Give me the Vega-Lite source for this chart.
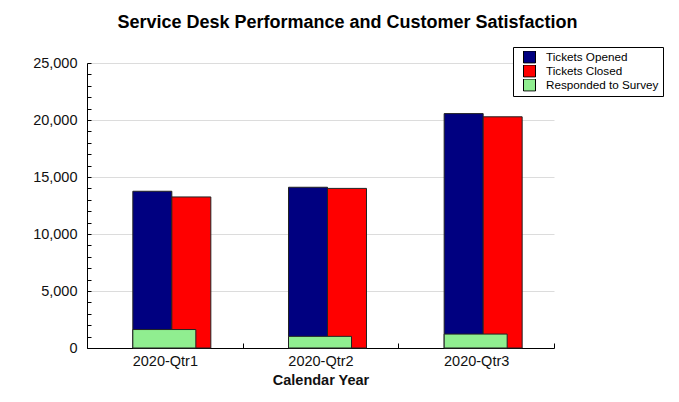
{
  "$schema": "https://vega.github.io/schema/vega-lite/v6.json",
  "width": 467,
  "height": 285,
  "autosize": {"type": "none"},
  "padding": {"left": 87, "top": 63, "right": 125, "bottom": 54},
  "background": "white",
  "title": {
    "text": "Service Desk Performance and Customer Satisfaction",
    "font": "Liberation Sans",
    "fontSize": 18,
    "fontWeight": "bold",
    "color": "#000",
    "anchor": "middle",
    "frame": "group",
    "dx": 27,
    "offset": 1,
    "baseline": "alphabetic"
  },
  "data": {
    "values": [
      {"quarter": "2020-Qtr1", "series": "Tickets Opened", "value": 13750},
      {"quarter": "2020-Qtr1", "series": "Tickets Closed", "value": 13250},
      {"quarter": "2020-Qtr1", "series": "Responded to Survey", "value": 1620},
      {"quarter": "2020-Qtr2", "series": "Tickets Opened", "value": 14100},
      {"quarter": "2020-Qtr2", "series": "Tickets Closed", "value": 14000},
      {"quarter": "2020-Qtr2", "series": "Responded to Survey", "value": 1020},
      {"quarter": "2020-Qtr3", "series": "Tickets Opened", "value": 20560},
      {"quarter": "2020-Qtr3", "series": "Tickets Closed", "value": 20280},
      {"quarter": "2020-Qtr3", "series": "Responded to Survey", "value": 1220}
    ]
  },
  "encoding": {
    "x": {
      "field": "quarter",
      "type": "nominal",
      "scale": {"paddingInner": 0, "paddingOuter": 0},
      "title": "Calendar Year",
      "axis": {
        "labelAngle": 0,
        "tickBand": "extent",
        "tickSize": -5,
        "labelPadding": 11,
        "domainColor": "#000",
        "tickColor": "#000",
        "labelFont": "Liberation Sans",
        "labelFontSize": 14.5,
        "labelColor": "#111",
        "titleFont": "Liberation Sans",
        "titleFontSize": 14.5,
        "titleFontWeight": "bold",
        "titleColor": "#111",
        "titlePadding": 6,
        "grid": false
      }
    },
    "y": {
      "field": "value",
      "type": "quantitative",
      "scale": {"domain": [0, 25000], "nice": false},
      "axis": {
        "title": null,
        "values": [0,1000,2000,3000,4000,5000,6000,7000,8000,9000,10000,11000,12000,13000,14000,15000,16000,17000,18000,19000,20000,21000,22000,23000,24000,25000],
        "labelExpr": "datum.value % 5000 === 0 ? format(datum.value, ',') : ''",
        "labelOverlap": false,
        "grid": true,
        "gridColor": "#dcdcdc",
        "gridOpacity": {"condition": {"test": "datum.value % 5000 !== 0 || datum.value === 0", "value": 0}, "value": 1},
        "tickSize": -4,
        "tickColor": "#000",
        "domainColor": "#000",
        "labelPadding": 14,
        "labelFont": "Liberation Sans",
        "labelFontSize": 14.5,
        "labelColor": "#111"
      }
    },
    "color": {
      "field": "series",
      "type": "nominal",
      "scale": {
        "domain": ["Tickets Opened", "Tickets Closed", "Responded to Survey"],
        "range": ["#000080", "#ff0000", "#90ee90"]
      },
      "legend": {
        "orient": "none",
        "legendX": 426,
        "legendY": -16,
        "title": null,
        "symbolType": "square",
        "symbolSize": 144,
        "symbolStrokeColor": "#000",
        "symbolStrokeWidth": 1,
        "symbolOpacity": 1,
        "labelFont": "Liberation Sans",
        "labelFontSize": 11.7,
        "labelColor": "#000",
        "labelOffset": 10,
        "clipHeight": 12,
        "rowPadding": 1,
        "padding": 4,
        "symbolOffset": 6,
        "strokeColor": "#000",
        "fillColor": "#fff"
      }
    }
  },
  "layer": [
    {
      "transform": [{"filter": "datum.series === 'Tickets Opened'"}],
      "mark": {"type": "bar", "width": 39, "xOffset": -12.5, "stroke": "#222", "strokeWidth": 1, "opacity": 1}
    },
    {
      "transform": [{"filter": "datum.series === 'Tickets Closed'"}],
      "mark": {"type": "bar", "width": 39, "xOffset": 26.5, "stroke": "#222", "strokeWidth": 1, "opacity": 1}
    },
    {
      "transform": [{"filter": "datum.series === 'Responded to Survey'"}],
      "mark": {"type": "bar", "width": 63, "xOffset": -0.5, "stroke": "#222", "strokeWidth": 1, "opacity": 1}
    }
  ],
  "config": {
    "view": {"stroke": null}
  }
}
